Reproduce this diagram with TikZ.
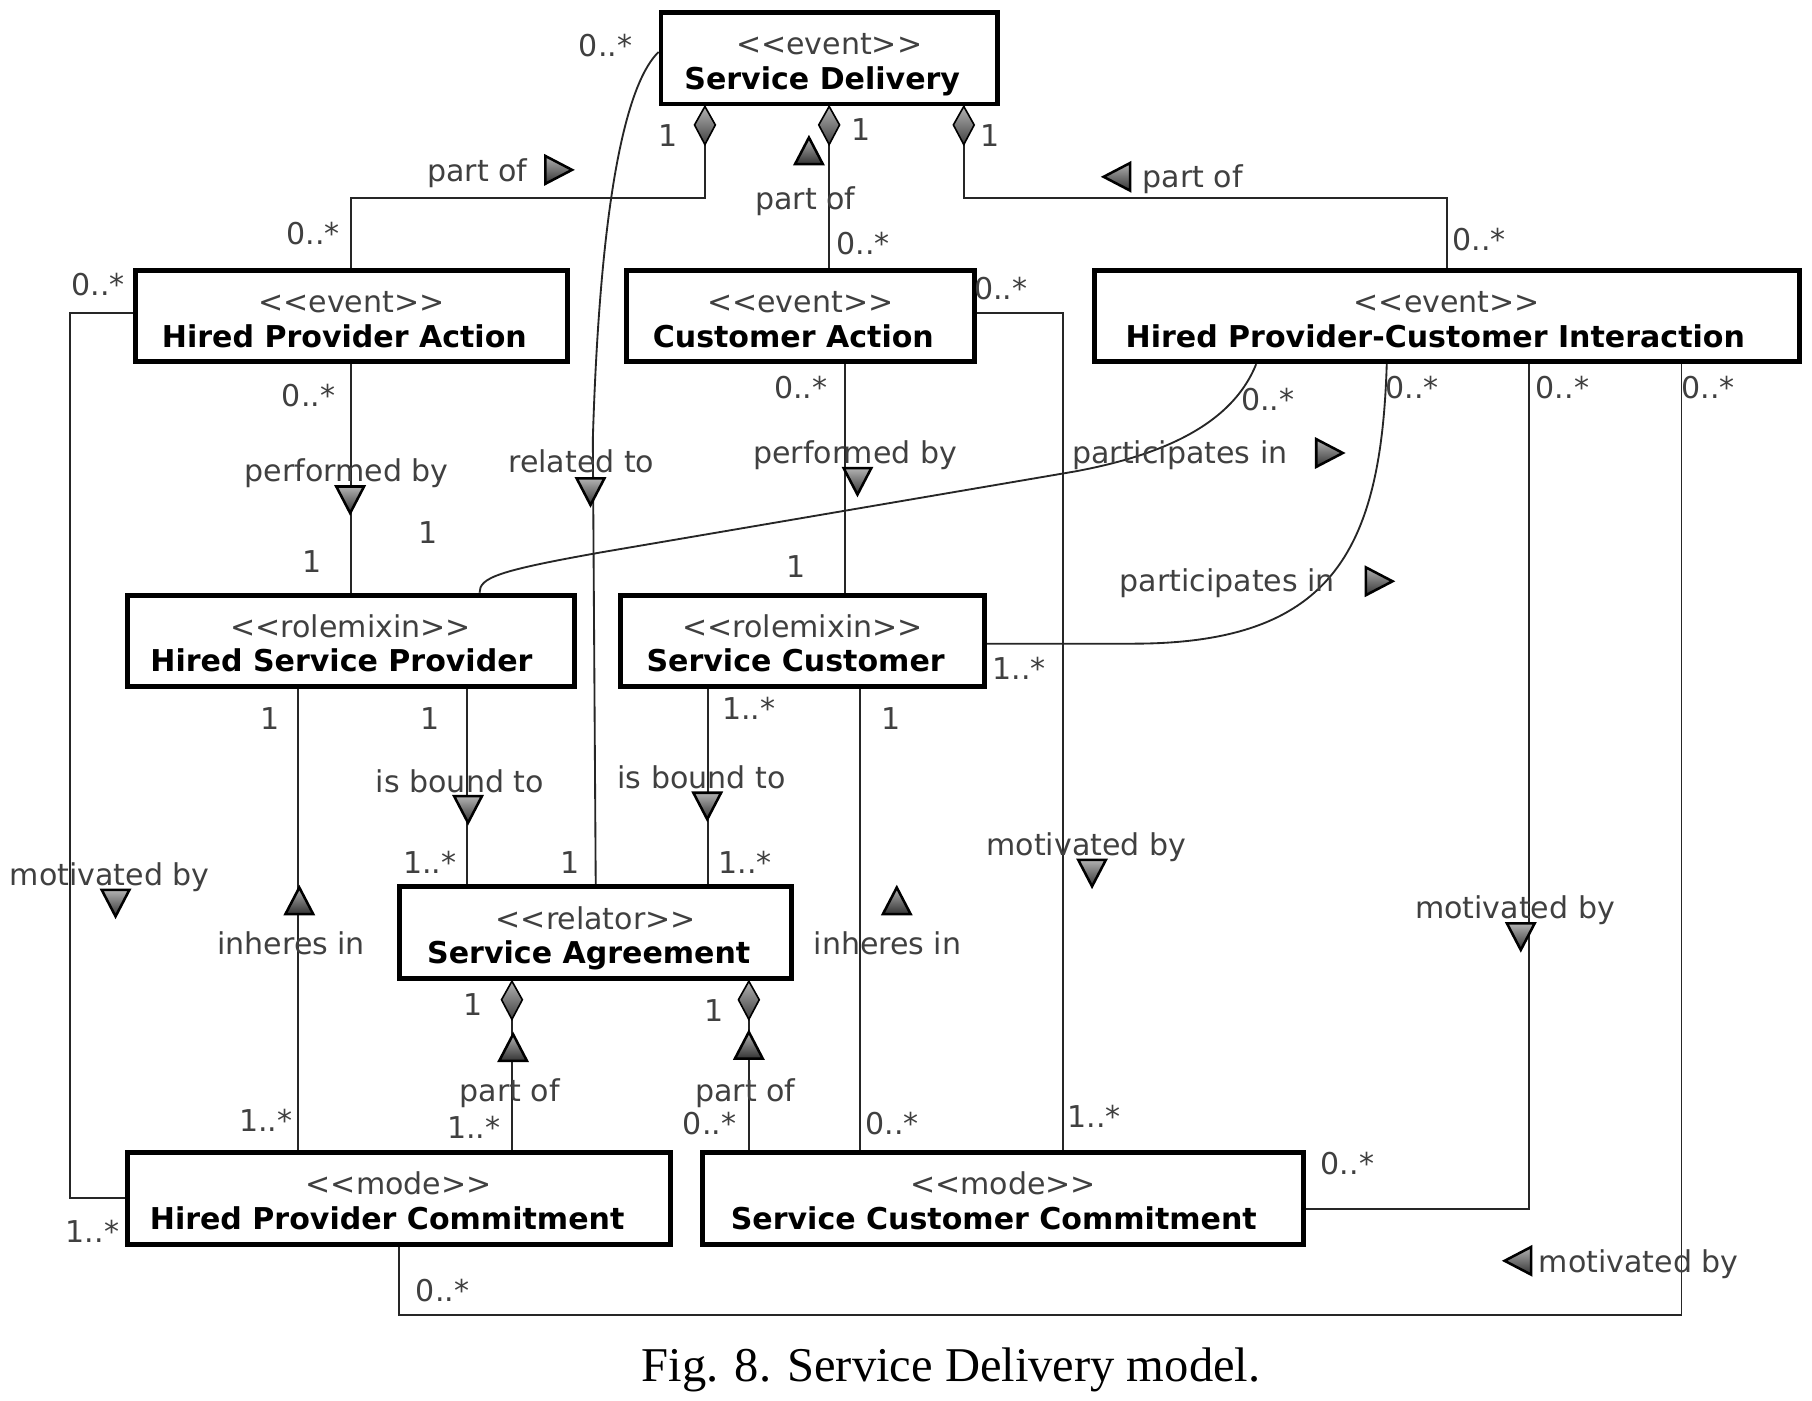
\documentclass[tikz,border=0pt]{standalone}
\usepackage{fontspec}
\setmainfont{DejaVu Sans}
\newfontfamily\capfont{Liberation Serif}
\usetikzlibrary{calc}
\newcommand\ster[1]{{\color{black!75}\mdseries<{}<#1>{}>}}
\newcommand\bxtext[3]{\raisebox{-6pt}[\height][\depth]{\begin{tabular}{@{}c@{}}\ster{#1}\\\textbf{#2}\hspace*{#3}\end{tabular}}}
\tikzset{
  box/.style={draw=black, line width=4.2pt, fill=white, inner sep=0pt,
    font=\fontsize{26}{30}\selectfont},
  conn/.style={draw=black!85, line width=1.6pt},
  lbl/.style={font=\fontsize{26}{30}\selectfont, text=black!75, inner sep=0pt,
    text height=19pt, text depth=5pt},
  mk/.style={line width=2.2pt, draw=black, top color=black!30, bottom color=black!80, line join=miter},
  pics/dmd/.style={code={\draw[line width=1.4pt, draw=black, top color=black!30, bottom color=black!75]
      (0,0) -- (9,16) -- (0,33) -- (-9,16) -- cycle;}},
  pics/triU/.style={code={\draw[mk] (0,-12) -- (12,11) -- (-12,11) -- cycle;}},
  pics/triD/.style={code={\draw[mk] (0,12) -- (12,-11) -- (-12,-11) -- cycle;}},
  pics/triR/.style={code={\draw[mk] (12,0) -- (-11,12) -- (-11,-12) -- cycle;}},
  pics/triL/.style={code={\draw[mk] (-12,0) -- (11,12) -- (11,-12) -- cycle;}},
}
\begin{document}
\begin{tikzpicture}[x=1pt,y=-1pt]
\fill[white] (0,0) rectangle (1568,1212);
\useasboundingbox (0,0) rectangle (1568,1212);

% boxes
\node[box, minimum width=291pt, minimum height=79pt] (sd) at (717.5,50.5)
  {\bxtext{event}{Service Delivery}{12pt}};
\node[box, minimum width=374pt, minimum height=79pt] (hpa) at (304,273.5)
  {\bxtext{event}{Hired Provider Action}{12pt}};
\node[box, minimum width=301pt, minimum height=79pt] (ca) at (692.5,273.5)
  {\bxtext{event}{Customer Action}{12pt}};
\node[box, minimum width=610pt, minimum height=79pt] (hpci) at (1252,273.5)
  {\bxtext{event}{Hired Provider-Customer Interaction}{20pt}};
\node[box, minimum width=387pt, minimum height=79pt] (hsp) at (303.5,554.5)
  {\bxtext{rolemixin}{Hired Service Provider}{16pt}};
\node[box, minimum width=315pt, minimum height=79pt] (sc) at (694.5,554.5)
  {\bxtext{rolemixin}{Service Customer}{12pt}};
\node[box, minimum width=339pt, minimum height=80pt] (sa) at (515.5,807)
  {\bxtext{relator}{Service Agreement}{12pt}};
\node[box, minimum width=470pt, minimum height=80pt] (hpc) at (345,1037)
  {\bxtext{mode}{Hired Provider Commitment}{20pt}};
\node[box, minimum width=520pt, minimum height=80pt] (scc) at (868,1037)
  {\bxtext{mode}{Service Customer Commitment}{16pt}};

% connectors
\draw[conn] ([xshift=-107.5pt]sd.south) -- ++(0,79) -| (hpa.north);
\draw[conn] (sd.south) -- (sd.south |- ca.north);
\draw[conn] ([xshift=116.5pt]sd.south) -- ++(0,79) -| (hpci.north);
\draw[conn] ([yshift=5.5pt]sd.west) .. controls (546,68) and (520,150) .. (513,380) -- (sa.north);
\draw[conn] (hpa.south) -- (hpa.south |- hsp.north);
\draw[conn] ([xshift=38.5pt]ca.south) -- ([xshift=38.5pt]ca.south |- sc.north);
\draw[conn] ([xshift=-165pt]hpci.south) .. controls (1065,370) and (1000,395) .. (930,408)
  -- (520,478) .. controls (430,494) and (415,500) .. ([xshift=111.5pt]hsp.north);
\draw[conn] ([xshift=-52pt]hpci.south) .. controls (1195,480) and (1150,557) .. (980,557)
  -- ([yshift=-2.5pt]sc.east);
\draw[conn] ([xshift=100.5pt]hsp.south) -- ([xshift=100.5pt]hsp.south |- sa.north);
\draw[conn] ([xshift=-81.5pt]sc.south) -- ([xshift=-81.5pt]sc.south |- sa.north);
\draw[conn] ([xshift=-45.5pt]hsp.south) -- ([xshift=-45.5pt]hsp.south |- hpc.north);
\draw[conn] ([xshift=49.5pt]sc.south) -- ([xshift=49.5pt]sc.south |- scc.north);
\draw[conn] ([xshift=-72.5pt]sa.south) -- ([xshift=-72.5pt]sa.south |- hpc.north);
\draw[conn] ([xshift=132.5pt]sa.south) -- ([xshift=132.5pt]sa.south |- scc.north);
\draw[conn] ([yshift=2.5pt]hpa.west) -- ++(-54,0) |- (hpc.west);
\draw[conn] ([yshift=2.5pt]ca.east) -| ([xshift=52pt]scc.north);
\draw[conn] ([xshift=71pt]hpci.south) |- ([yshift=-9pt]scc.east);
\draw[conn] ([xshift=203pt]hpci.south) -- ++(0,823) -| (hpc.south);

% diamonds
\pic at ([xshift=-107.5pt]sd.south) {dmd};
\pic at (sd.south) {dmd};
\pic at ([xshift=116.5pt]sd.south) {dmd};
\pic at ([xshift=-72.5pt]sa.south) {dmd};
\pic at ([xshift=132.5pt]sa.south) {dmd};

% reading-direction triangles
\pic at (483,147) {triR};
\pic at (700,131) {triU};
\pic at (967,153) {triL};
\pic at (511,425) {triD};
\pic at (303,432) {triD};
\pic at (742,416) {triD};
\pic at (1150,392) {triR};
\pic at (1193,503) {triR};
\pic at (405,700) {triD};
\pic at (612,697) {triD};
\pic at (259,780) {triU};
\pic at (776,780) {triU};
\pic at (444,907) {triU};
\pic at (648,905) {triU};
\pic at (100,781) {triD};
\pic at (945,755) {triD};
\pic at (1316,810) {triD};
\pic at (1314,1091) {triL};

% labels
\node[lbl] (l1) at (578,120) {1};
\node[lbl] (l2) at (413,150) {part of};
\node[lbl] (l3) at (271,205) {0..*};
\node[lbl] (l4) at (745,115) {1};
\node[lbl] (l5) at (697,174) {part of};
\node[lbl] (l6) at (747,213) {0..*};
\node[lbl] (l7) at (857,120) {1};
\node[lbl] (l8) at (1032,155) {part of};
\node[lbl] (l9) at (1280,210) {0..*};
\node[lbl] (l10) at (524,42) {0..*};
\node[lbl] (l11) at (503,402) {related to};
\node[lbl] (l12) at (493,749) {1};
\node[lbl] (l13) at (267,345) {0..*};
\node[lbl] (l14) at (300,410) {performed by};
\node[lbl] (l15) at (270,488) {1};
\node[lbl] (l16) at (693,338) {0..*};
\node[lbl] (l17) at (740,394) {performed by};
\node[lbl] (l18) at (689,493) {1};
\node[lbl] (l19) at (370,463) {1};
\node[lbl] (l20) at (1097,348) {0..*};
\node[lbl] (l21) at (1021,394) {participates in};
\node[lbl] (l22) at (1222,338) {0..*};
\node[lbl] (l23) at (1062,505) {participates in};
\node[lbl] (l24) at (882,581) {1..*};
\node[lbl] (l25) at (372,624) {1};
\node[lbl] (l26) at (398,679) {is bound to};
\node[lbl] (l27) at (372,749) {1..*};
\node[lbl] (l28) at (648,616) {1..*};
\node[lbl] (l29) at (607,675) {is bound to};
\node[lbl] (l30) at (645,749) {1..*};
\node[lbl] (l31) at (234,624) {1};
\node[lbl] (l32) at (252,819) {inheres in};
\node[lbl] (l33) at (230,972) {1..*};
\node[lbl] (l34) at (771,624) {1};
\node[lbl] (l35) at (768,819) {inheres in};
\node[lbl] (l36) at (772,975) {0..*};
\node[lbl] (l37) at (409,872) {1};
\node[lbl] (l38) at (441,946) {part of};
\node[lbl] (l39) at (410,978) {1..*};
\node[lbl] (l40) at (618,877) {1};
\node[lbl] (l41) at (645,946) {part of};
\node[lbl] (l42) at (614,975) {0..*};
\node[lbl] (l43) at (85,249) {0..*};
\node[lbl] (l44) at (95,759) {motivated by};
\node[lbl] (l45) at (80,1068) {1..*};
\node[lbl] (l46) at (866,252) {0..*};
\node[lbl] (l47) at (940,733) {motivated by};
\node[lbl] (l48) at (947,969) {1..*};
\node[lbl] (l49) at (1352,338) {0..*};
\node[lbl] (l50) at (1311,788) {motivated by};
\node[lbl] (l51) at (1166,1009) {0..*};
\node[lbl] (l52) at (1478,338) {0..*};
\node[lbl] (l53) at (1418,1094) {motivated by};
\node[lbl] (l54) at (383,1119) {0..*};

% caption
\node[font=\capfont\fontsize{42}{48}\selectfont, inner sep=0pt] (cap) at (823,1185)
  {Fig. 8. Service Delivery model.};
\end{tikzpicture}
\end{document}
